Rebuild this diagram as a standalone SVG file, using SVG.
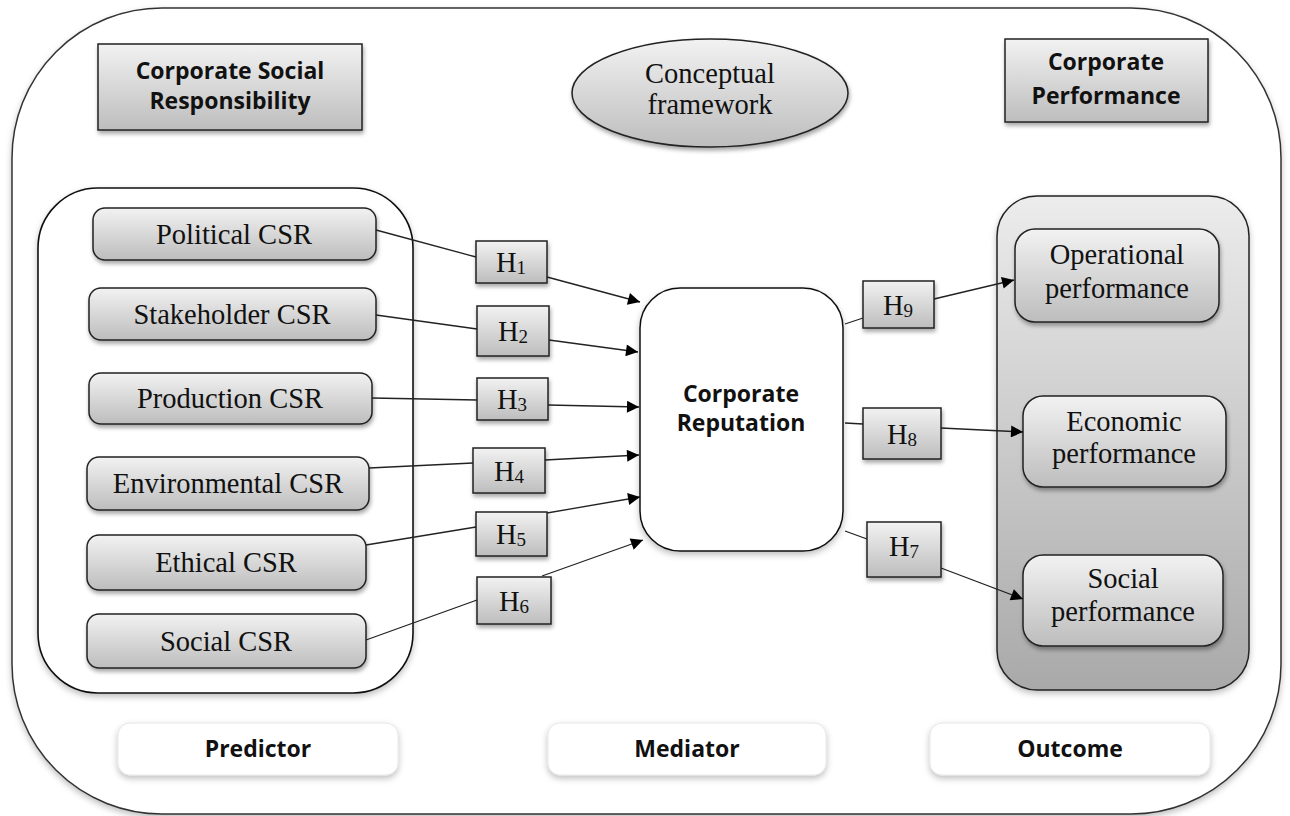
<svg xmlns="http://www.w3.org/2000/svg" width="1290" height="816" viewBox="0 0 1290 816">
<defs>
<linearGradient id="g" x1="0" y1="0" x2="0" y2="1"><stop offset="0" stop-color="#f2f2f2"/><stop offset="1" stop-color="#bdbdbd"/></linearGradient>
<linearGradient id="gc" x1="0" y1="0" x2="0" y2="1"><stop offset="0" stop-color="#ececec"/><stop offset="1" stop-color="#a9a9a9"/></linearGradient>
<filter id="sh" x="-10%" y="-10%" width="130%" height="140%"><feDropShadow dx="1" dy="3" stdDeviation="2" flood-color="#000" flood-opacity="0.35"/></filter>
<filter id="sh2" x="-10%" y="-10%" width="130%" height="150%"><feDropShadow dx="0" dy="3" stdDeviation="3" flood-color="#000" flood-opacity="0.25"/></filter>
<marker id="ar" viewBox="0 0 10 10" refX="10" refY="5" markerWidth="16" markerHeight="12" markerUnits="userSpaceOnUse" orient="auto"><path d="M0,0 L10,5 L0,10 z" fill="#000"/></marker>
<style>
.box{fill:url(#g);stroke:#222;stroke-width:1.5;filter:url(#sh)}
.serif{font-family:"Liberation Serif","Times New Roman",serif;font-size:28.5px;fill:#111;text-anchor:middle}
.sans{font-family:"Open Sans","Liberation Sans",sans-serif;font-weight:700;font-size:23px;fill:#111;text-anchor:middle}
.sub{font-size:19px}
.con{fill:none;stroke:#222;stroke-width:1.3}
.arr{marker-end:url(#ar)}
.lbl{fill:#fff;stroke:#e6e6e6;stroke-width:1;filter:url(#sh2)}
</style>
</defs>
<rect id="frame" x="12" y="8" width="1269" height="806" rx="150" ry="150" fill="#fff" stroke="#333" stroke-width="1.5" filter="url(#sh2)"/>

<g id="csr-title"><rect class="box" x="98" y="44" width="264" height="86"/><text class="sans" x="230" y="79">Corporate Social</text><text class="sans" x="230" y="109">Responsibility</text></g>
<g id="conceptual"><ellipse cx="710" cy="93" rx="138" ry="54" fill="url(#g)" stroke="#222" stroke-width="1.5" filter="url(#sh)"/><text class="serif" x="710" y="83">Conceptual</text><text class="serif" x="710" y="114">framework</text></g>
<g id="cp-title"><rect class="box" x="1005" y="39" width="203" height="83"/><text class="sans" x="1106" y="70">Corporate</text><text class="sans" x="1106" y="104">Performance</text></g>

<g id="predictor-group"><rect x="38" y="188" width="375" height="505" rx="60" ry="60" fill="#fff" stroke="#111" stroke-width="1.6" filter="url(#sh2)"/></g>
<g id="outcome-group"><rect x="997" y="196" width="252" height="494" rx="40" ry="40" fill="url(#gc)" stroke="#222" stroke-width="1.5" filter="url(#sh2)"/></g>

<g id="political"><rect class="box" x="93" y="208" width="283" height="52" rx="12"/><text class="serif" x="234" y="244">Political CSR</text></g>
<g id="stakeholder"><rect class="box" x="89" y="288" width="287" height="52" rx="12"/><text class="serif" x="232" y="324">Stakeholder CSR</text></g>
<g id="production"><rect class="box" x="89" y="373" width="283" height="51" rx="12"/><text class="serif" x="230" y="408">Production CSR</text></g>
<g id="environmental"><rect class="box" x="87" y="457" width="282" height="53" rx="12"/><text class="serif" x="228" y="493">Environmental CSR</text></g>
<g id="ethical"><rect class="box" x="87" y="535" width="279" height="55" rx="12"/><text class="serif" x="226" y="572">Ethical CSR</text></g>
<g id="social-csr"><rect class="box" x="87" y="614" width="279" height="54" rx="12"/><text class="serif" x="226" y="651">Social CSR</text></g>

<g id="reputation"><rect x="640" y="288" width="203" height="263" rx="40" ry="40" fill="#fff" stroke="#111" stroke-width="1.5" filter="url(#sh2)"/><text class="sans" x="741" y="402">Corporate</text><text class="sans" x="741" y="431">Reputation</text></g>

<g id="operational"><rect class="box" x="1015" y="229" width="204" height="93" rx="20"/><text class="serif" x="1117" y="264">Operational</text><text class="serif" x="1117" y="298">performance</text></g>
<g id="economic"><rect class="box" x="1023" y="396" width="203" height="91" rx="20"/><text class="serif" x="1124" y="431">Economic</text><text class="serif" x="1124" y="463">performance</text></g>
<g id="social-perf"><rect class="box" x="1023" y="555" width="200" height="91" rx="20"/><text class="serif" x="1123" y="588">Social</text><text class="serif" x="1123" y="621">performance</text></g>

<g id="connectors">
<line class="con" x1="376" y1="230" x2="476" y2="257"/><line class="con arr" x1="547" y1="277" x2="640" y2="302"/>
<line class="con" x1="376" y1="315" x2="477" y2="329"/><line class="con arr" x1="549" y1="340" x2="638" y2="352"/>
<line class="con" x1="372" y1="398" x2="477" y2="400"/><line class="con arr" x1="548" y1="405" x2="639" y2="407"/>
<line class="con" x1="369" y1="468" x2="473" y2="463"/><line class="con arr" x1="545" y1="460" x2="639" y2="455"/>
<line class="con" x1="366" y1="545" x2="476" y2="527"/><line class="con arr" x1="547" y1="513" x2="640" y2="497"/>
<line class="con" x1="366" y1="640" x2="477" y2="600"/><line class="con arr" x1="542" y1="576" x2="643" y2="540"/>
<line class="con" x1="845" y1="324" x2="863" y2="318"/><line class="con arr" x1="934" y1="299" x2="1014" y2="280"/>
<line class="con" x1="845" y1="423" x2="863" y2="424"/><line class="con arr" x1="941" y1="428" x2="1023" y2="432"/>
<line class="con" x1="845" y1="531" x2="867" y2="539"/><line class="con arr" x1="941" y1="568" x2="1023" y2="599"/>
</g>

<g id="h1"><rect class="box" x="476" y="241" width="71" height="42"/><text class="serif" x="511" y="272">H<tspan class="sub" dy="2">1</tspan></text></g>
<g id="h2"><rect class="box" x="477" y="306" width="72" height="50"/><text class="serif" x="513" y="341">H<tspan class="sub" dy="2">2</tspan></text></g>
<g id="h3"><rect class="box" x="477" y="378" width="71" height="42"/><text class="serif" x="512" y="409">H<tspan class="sub" dy="2">3</tspan></text></g>
<g id="h4"><rect class="box" x="473" y="448" width="72" height="45"/><text class="serif" x="509" y="481">H<tspan class="sub" dy="2">4</tspan></text></g>
<g id="h5"><rect class="box" x="476" y="512" width="71" height="44"/><text class="serif" x="511" y="544">H<tspan class="sub" dy="2">5</tspan></text></g>
<g id="h6"><rect class="box" x="477" y="577" width="74" height="47"/><text class="serif" x="514" y="611">H<tspan class="sub" dy="2">6</tspan></text></g>
<g id="h9"><rect class="box" x="863" y="281" width="71" height="47"/><text class="serif" x="898" y="315">H<tspan class="sub" dy="2">9</tspan></text></g>
<g id="h8"><rect class="box" x="863" y="408" width="78" height="51"/><text class="serif" x="902" y="444">H<tspan class="sub" dy="2">8</tspan></text></g>
<g id="h7"><rect class="box" x="867" y="522" width="74" height="55"/><text class="serif" x="904" y="556">H<tspan class="sub" dy="2">7</tspan></text></g>

<g id="predictor"><rect class="lbl" x="118" y="723" width="280" height="52" rx="12"/><text class="sans" x="258" y="757">Predictor</text></g>
<g id="mediator"><rect class="lbl" x="548" y="723" width="278" height="52" rx="12"/><text class="sans" x="687" y="757">Mediator</text></g>
<g id="outcome"><rect class="lbl" x="930" y="723" width="280" height="52" rx="12"/><text class="sans" x="1070" y="757">Outcome</text></g>
</svg>
